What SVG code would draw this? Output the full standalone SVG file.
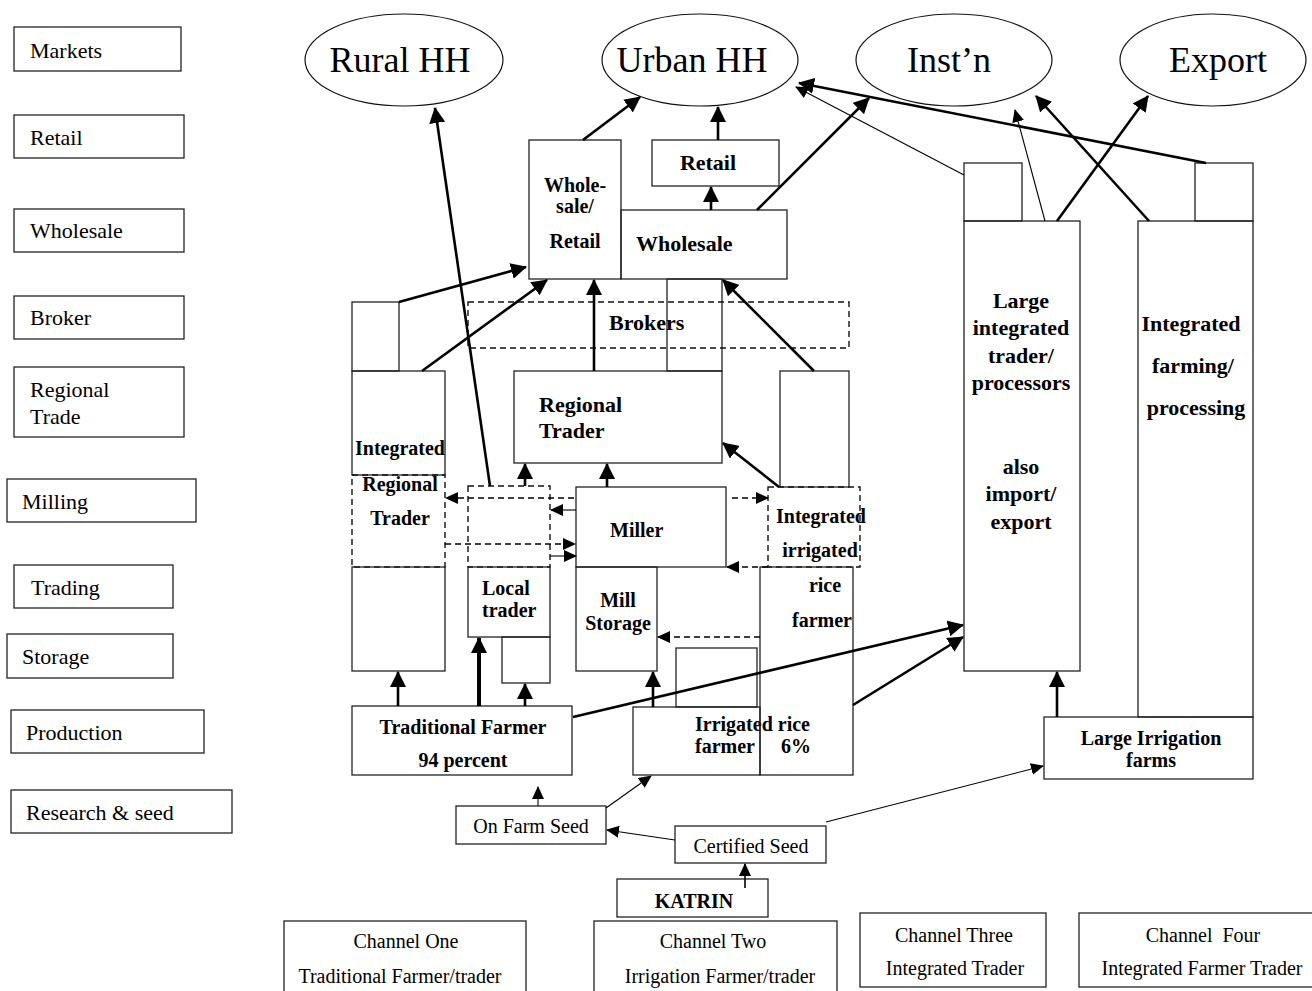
<svg xmlns="http://www.w3.org/2000/svg" width="1312" height="991" viewBox="0 0 1312 991">
<style>
text{font-family:"Liberation Serif","Times New Roman",serif;fill:#000}
.lbl{font-size:22px}
.b{font-weight:bold;font-size:20px}
.b2{font-weight:bold;font-size:22px}
.r{font-size:20px}
.big{font-size:36px}
.box{fill:none;stroke:#222;stroke-width:1.3}
.dbox{fill:none;stroke:#111;stroke-width:1.4;stroke-dasharray:6,4}
.ell{fill:#fff;stroke:#111;stroke-width:1.2}
.thick{stroke:#000;stroke-width:2.6;fill:none;marker-end:url(#ab)}
.xthick{stroke:#000;stroke-width:4;fill:none;marker-end:url(#ab)}
.thin{stroke:#000;stroke-width:1.1;fill:none;marker-end:url(#as)}
.dash{stroke:#000;stroke-width:1.4;fill:none;stroke-dasharray:6,4;marker-end:url(#as)}
.c{text-anchor:middle}
</style>
<defs>
<marker id="ab" markerUnits="userSpaceOnUse" markerWidth="16" markerHeight="16" refX="15" refY="8" orient="auto"><path d="M0,0 L16,8 L0,16 z" fill="#000"/></marker>
<marker id="as" markerUnits="userSpaceOnUse" markerWidth="13" markerHeight="12" refX="12" refY="6" orient="auto"><path d="M0,0 L13,6 L0,12 z" fill="#000"/></marker>
</defs>
<rect width="1312" height="991" fill="#fff"/>

<g id="legend">
<g id="lg-markets"><rect class="box" x="14" y="27" width="167" height="44"/><text class="lbl" x="30" y="58">Markets</text></g>
<g id="lg-retail"><rect class="box" x="14" y="115" width="170" height="43"/><text class="lbl" x="30" y="145">Retail</text></g>
<g id="lg-wholesale"><rect class="box" x="14" y="209" width="170" height="43"/><text class="lbl" x="30" y="238">Wholesale</text></g>
<g id="lg-broker"><rect class="box" x="14" y="296" width="170" height="43"/><text class="lbl" x="30" y="325">Broker</text></g>
<g id="lg-regional"><rect class="box" x="14" y="367" width="170" height="70"/><text class="lbl" x="30" y="397">Regional</text><text class="lbl" x="30" y="424">Trade</text></g>
<g id="lg-milling"><rect class="box" x="7" y="479" width="189" height="43"/><text class="lbl" x="22" y="509">Milling</text></g>
<g id="lg-trading"><rect class="box" x="14" y="565" width="159" height="43"/><text class="lbl" x="31" y="595">Trading</text></g>
<g id="lg-storage"><rect class="box" x="7" y="634" width="166" height="44"/><text class="lbl" x="22" y="664">Storage</text></g>
<g id="lg-production"><rect class="box" x="11" y="710" width="193" height="43"/><text class="lbl" x="26" y="740">Production</text></g>
<g id="lg-research"><rect class="box" x="11" y="790" width="221" height="43"/><text class="lbl" x="26" y="820">Research &amp; seed</text></g>
</g>

<g id="rural-hh"><ellipse class="ell" cx="404" cy="60" rx="99" ry="46"/><text class="big c" x="400" y="72">Rural HH</text></g>
<g id="urban-hh"><ellipse class="ell" cx="700" cy="60" rx="98" ry="46"/><text class="big c" x="692" y="72">Urban HH</text></g>
<g id="instn"><ellipse class="ell" cx="954" cy="60" rx="98" ry="46"/><text class="big c" x="949" y="72">Inst’n</text></g>
<g id="export"><ellipse class="ell" cx="1213" cy="60" rx="93" ry="46"/><text class="big c" x="1218" y="72">Export</text></g>

<g id="wholesale-retail"><rect class="box" x="529" y="140" width="92" height="139"/><text class="b c" x="575" y="192">Whole-</text><text class="b c" x="575" y="213">sale/</text><text class="b c" x="575" y="248">Retail</text></g>
<g id="retail"><rect class="box" x="652" y="140" width="127" height="46"/><text class="b2 c" x="708" y="170">Retail</text></g>
<g id="wholesale"><rect class="box" x="621" y="210" width="166" height="69"/><text class="b2" x="636" y="251">Wholesale</text></g>
<g id="wholesale-stem"><rect class="box" x="667" y="279" width="55" height="92"/></g>
<g id="brokers"><rect class="dbox" x="468" y="302" width="381" height="46"/><text class="b2" x="609" y="330">Brokers</text></g>
<g id="regional-trader"><rect class="box" x="514" y="371" width="208" height="92"/><text class="b2" x="539" y="412">Regional</text><text class="b2" x="539" y="438">Trader</text></g>

<g id="integrated-regional-trader">
<rect class="box" x="352" y="302" width="47" height="69"/>
<rect class="box" x="352" y="371" width="93" height="104"/>
<rect class="dbox" x="352" y="475" width="93" height="92"/>
<rect class="box" x="352" y="567" width="93" height="104"/>
<text class="b c" x="400" y="455">Integrated</text>
<text class="b c" x="400" y="491">Regional</text>
<text class="b c" x="400" y="525">Trader</text>
</g>

<g id="local-trader">
<rect class="dbox" x="468" y="486" width="82" height="81"/>
<rect class="box" x="468" y="567" width="82" height="70"/>
<rect class="box" x="502" y="637" width="48" height="46"/>
<text class="b" x="482" y="595">Local</text>
<text class="b" x="482" y="617">trader</text>
</g>

<g id="miller"><rect class="box" x="576" y="487" width="150" height="80"/><text class="b" x="610" y="537">Miller</text></g>
<g id="mill-storage"><rect class="box" x="576" y="567" width="81" height="104"/><text class="b c" x="618" y="607">Mill</text><text class="b c" x="618" y="630">Storage</text></g>

<g id="irrigated-rice-farmer">
<rect class="box" x="676" y="648" width="81" height="59"/>
<rect class="box" x="633" y="707" width="127" height="68"/>
<text class="b" x="695" y="731">Irrigated rice</text>
<text class="b" x="695" y="753">farmer</text>
<text class="b" x="781" y="753">6%</text>
</g>

<g id="integrated-irrigated-rice-farmer">
<rect class="box" x="780" y="371" width="69" height="116"/>
<rect class="dbox" x="768" y="487" width="92" height="80"/>
<rect class="box" x="760" y="567" width="93" height="208"/>
<text class="b c" x="821" y="523">Integrated</text>
<text class="b c" x="820" y="557">irrigated</text>
<text class="b c" x="825" y="592">rice</text>
<text class="b c" x="822" y="627">farmer</text>
</g>

<g id="traditional-farmer"><rect class="box" x="352" y="706" width="220" height="69"/><text class="b c" x="463" y="734">Traditional Farmer</text><text class="b c" x="463" y="767">94 percent</text></g>

<g id="large-integrated-trader">
<rect class="box" x="964" y="163" width="58" height="58"/>
<rect class="box" x="964" y="221" width="116" height="450"/>
<text class="b2 c" x="1021" y="308">Large</text>
<text class="b2 c" x="1021" y="335">integrated</text>
<text class="b2 c" x="1021" y="363">trader/</text>
<text class="b2 c" x="1021" y="390">processors</text>
<text class="b2 c" x="1021" y="474">also</text>
<text class="b2 c" x="1021" y="501">import/</text>
<text class="b2 c" x="1021" y="529">export</text>
</g>

<g id="integrated-farming">
<rect class="box" x="1195" y="163" width="58" height="58"/>
<rect class="box" x="1138" y="221" width="115" height="496"/>
<text class="b2 c" x="1191" y="331">Integrated</text>
<text class="b2 c" x="1193" y="373">farming/</text>
<text class="b2 c" x="1196" y="415">processing</text>
</g>

<g id="large-irrigation-farms"><rect class="box" x="1044" y="717" width="209" height="62"/><text class="b c" x="1151" y="745">Large Irrigation</text><text class="b c" x="1151" y="767">farms</text></g>

<g id="on-farm-seed"><rect class="box" x="456" y="806" width="150" height="38"/><text class="r c" x="531" y="833">On Farm Seed</text></g>
<g id="certified-seed"><rect class="box" x="675" y="826" width="151" height="37"/><text class="r c" x="751" y="853">Certified Seed</text></g>
<g id="katrin"><rect class="box" x="617" y="879" width="151" height="38"/><text class="b c" x="694" y="908">KATRIN</text></g>

<g id="channel-one"><rect class="box" x="284" y="921" width="242" height="80"/><text class="r c" x="406" y="948">Channel One</text><text class="r c" x="400" y="983">Traditional Farmer/trader</text></g>
<g id="channel-two"><rect class="box" x="594" y="921" width="243" height="80"/><text class="r c" x="713" y="948">Channel Two</text><text class="r c" x="720" y="983">Irrigation Farmer/trader</text></g>
<g id="channel-three"><rect class="box" x="860" y="913" width="186" height="74"/><text class="r c" x="954" y="942">Channel Three</text><text class="r c" x="955" y="975">Integrated Trader</text></g>
<g id="channel-four"><rect class="box" x="1079" y="913" width="245" height="74"/><text class="r c" x="1203" y="942" xml:space="preserve">Channel  Four</text><text class="r c" x="1202" y="975">Integrated Farmer Trader</text></g>

<g id="connectors">
<line class="thick" x1="490" y1="486" x2="435" y2="108"/>
<line class="thick" x1="583" y1="140" x2="640" y2="97"/>
<line class="thick" x1="718" y1="140" x2="718" y2="107"/>
<line class="thick" x1="711" y1="210" x2="711" y2="187"/>
<line class="thick" x1="757" y1="210" x2="869" y2="98"/>
<line class="thick" x1="1206" y1="163" x2="799" y2="83"/>
<line class="thick" x1="1057" y1="221" x2="1148" y2="96"/>
<line class="thick" x1="1149" y1="221" x2="1036" y2="96"/>
<line class="thick" x1="399" y1="302" x2="526" y2="267"/>
<line class="thick" x1="422" y1="371" x2="547" y2="280"/>
<line class="thick" x1="594" y1="371" x2="594" y2="280"/>
<line class="thick" x1="814" y1="371" x2="723" y2="280"/>
<line class="thick" x1="779" y1="487" x2="723" y2="443"/>
<line class="thick" x1="525" y1="486" x2="525" y2="464"/>
<line class="thick" x1="607" y1="487" x2="607" y2="464"/>
<line class="thick" x1="398" y1="706" x2="398" y2="672"/>
<line class="xthick" x1="479" y1="706" x2="479" y2="638"/>
<line class="thick" x1="525" y1="706" x2="525" y2="684"/>
<line class="thick" x1="653" y1="707" x2="653" y2="672"/>
<line class="thick" x1="573" y1="717" x2="963" y2="625"/>
<line class="thick" x1="853" y1="705" x2="963" y2="637"/>
<line class="thick" x1="1057" y1="717" x2="1057" y2="672"/>
<line class="thin" x1="964" y1="175" x2="796" y2="87"/>
<line class="thin" x1="1045" y1="221" x2="1015" y2="110"/>
<line class="thin" x1="538" y1="806" x2="538" y2="787"/>
<line class="thin" x1="606" y1="808" x2="651" y2="776"/>
<line class="thin" x1="675" y1="840" x2="607" y2="830"/>
<line class="thin" style="stroke-width:1.6" x1="745" y1="888" x2="745" y2="864"/>
<line class="thin" x1="826" y1="822" x2="1043" y2="766"/>
<line class="dash" x1="574" y1="498" x2="446" y2="498"/>
<line class="thin" x1="576" y1="510" x2="551" y2="510"/>
<line class="dash" x1="445" y1="544" x2="575" y2="544"/>
<line class="thin" x1="550" y1="556" x2="576" y2="556"/>
<line class="dash" x1="732" y1="498" x2="768" y2="498"/>
<line class="dash" x1="768" y1="567" x2="727" y2="567"/>
<line class="dash" x1="760" y1="637" x2="658" y2="637"/>
</g>
</svg>
